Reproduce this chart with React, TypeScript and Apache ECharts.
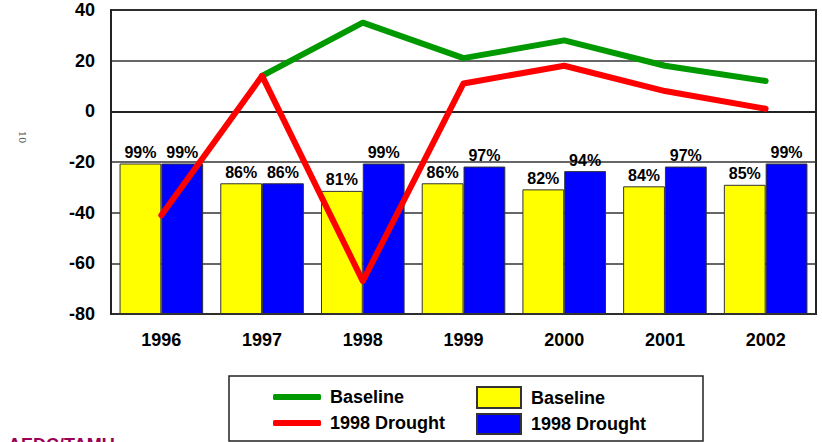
import React, { useEffect, useRef } from "react";
import * as echarts from "echarts";

const years = ["1996", "1997", "1998", "1999", "2000", "2001", "2002"];
const baselineLine = [null, 14, 35, 21, 28, 18, 12];
const droughtLine = [-41, 14, -67, 11, 18, 8, 1];
const baselinePct = [99, 86, 81, 86, 82, 84, 85];
const droughtPct = [99, 86, 99, 97, 94, 97, 99];
const yTicks = { min: -80, max: 40, interval: 20 };

const FONT = "'Liberation Sans', Arial, sans-serif";
const GREEN = "#009900";
const RED = "#ff0000";
const YELLOW = "#ffff00";
const BLUE = "#0000ff";

const displayName: Record<string, string> = {
  "Baseline line": "Baseline",
  "Drought line": "1998 Drought",
  "Baseline bar": "Baseline",
  "Drought bar": "1998 Drought",
};

function legendItem(name: string, left: number, top: number, w: number, h: number, icon: string, pad: number) {
  return {
    show: true,
    data: [name],
    left,
    top,
    itemWidth: w,
    itemHeight: h,
    icon,
    selectedMode: false,
    padding: 0,
    formatter: (n: string) => displayName[n],
    textStyle: { fontFamily: FONT, fontSize: 18, fontWeight: "bold", color: "#000", padding: [0, 0, 0, pad] },
  };
}

export default function App() {
  const ref = useRef<HTMLDivElement>(null);
  useEffect(() => {
    if (!ref.current) return;
    const chart = echarts.init(ref.current, null, { renderer: "svg" });
    chart.setOption({
      animation: false,
      backgroundColor: "#fff",
      grid: { left: 111, right: 6, top: 10, bottom: 128, show: true, borderColor: "#222", borderWidth: 2, backgroundColor: "transparent" },
      xAxis: {
        type: "category",
        data: years,
        axisLine: { show: true, lineStyle: { color: "#222", width: 2 } },
        axisTick: { show: false },
        axisLabel: { margin: 17, fontFamily: FONT, fontSize: 18, fontWeight: "bold", color: "#000" },
      },
      yAxis: [
        {
          type: "value",
          min: yTicks.min,
          max: yTicks.max,
          interval: yTicks.interval,
          axisLine: { show: true, lineStyle: { color: "#222", width: 2 } },
          axisTick: { show: false },
          axisLabel: { margin: 16, fontFamily: FONT, fontSize: 18, fontWeight: "bold", color: "#000" },
          splitLine: { show: true, lineStyle: { color: "#333", width: 1.5 } },
        },
        { type: "value", min: 0, max: 200, show: false, splitLine: { show: false } },
      ],
      legend: [
        legendItem("Baseline line", 273, 388, 48, 6, "roundRect", 4),
        legendItem("Drought line", 273, 414, 48, 6, "roundRect", 4),
        legendItem("Baseline bar", 476, 386, 44, 21, "rect", 5),
        legendItem("Drought bar", 476, 413, 44, 20, "rect", 5),
      ],
      series: [
        {
          name: "Baseline bar",
          type: "bar",
          yAxisIndex: 1,
          data: baselinePct,
          barGap: "0%",
          barCategoryGap: "17%",
          itemStyle: { color: YELLOW, borderColor: "#333", borderWidth: 1 },
          label: { show: true, position: "top", distance: 3, formatter: "{c}%", fontFamily: FONT, fontSize: 16, fontWeight: "bold", color: "#000" },
          z: 2,
        },
        {
          name: "Drought bar",
          type: "bar",
          yAxisIndex: 1,
          data: droughtPct,
          barGap: "0%",
          barCategoryGap: "17%",
          itemStyle: { color: BLUE, borderColor: "#333", borderWidth: 1 },
          label: { show: true, position: "top", distance: 3, formatter: "{c}%", fontFamily: FONT, fontSize: 16, fontWeight: "bold", color: "#000" },
          z: 2,
        },
        {
          name: "Baseline line",
          type: "line",
          yAxisIndex: 0,
          data: baselineLine,
          showSymbol: false,
          symbol: "none",
          lineStyle: { color: GREEN, width: 6, cap: "round", join: "round" },
          itemStyle: { color: GREEN },
          z: 5,
        },
        {
          name: "Drought line",
          type: "line",
          yAxisIndex: 0,
          data: droughtLine,
          showSymbol: false,
          symbol: "none",
          lineStyle: { color: RED, width: 6, cap: "round", join: "round" },
          itemStyle: { color: RED },
          z: 5,
        },
      ],
      graphic: [
        {
          type: "rect",
          shape: { x: 229, y: 376, width: 474, height: 65 },
          style: { fill: "#fff", stroke: "#222", lineWidth: 1.5 },
          z: -1,
          silent: true,
        },
        {
          type: "text",
          x: 22,
          y: 137,
          rotation: -Math.PI / 2,
          style: { text: "10", fill: "#555", font: "10px 'DejaVu Serif', serif", align: "center", verticalAlign: "middle" },
        },
        {
          type: "text",
          x: 8,
          y: 436,
          style: { text: "AEDC/TAMU", fill: "#990055", font: `bold 18px ${FONT}`, align: "left", verticalAlign: "top" },
        },
      ],
    });
    return () => chart.dispose();
  }, []);
  return <div ref={ref} style={{ position: "fixed", left: 0, top: 0, width: 822, height: 442 }} />;
}
